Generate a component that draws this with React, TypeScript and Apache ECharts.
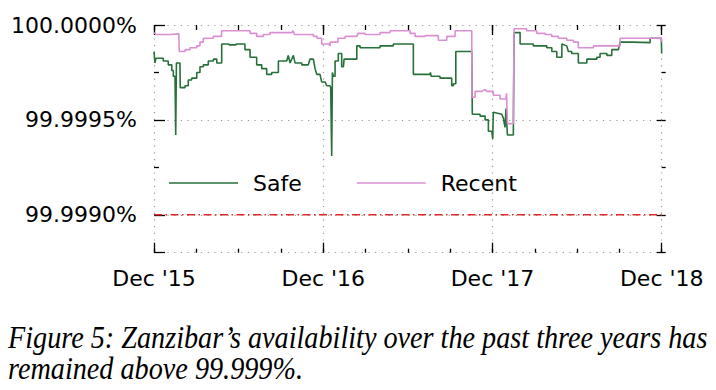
import React, { useEffect, useRef } from 'react';
import * as echarts from 'echarts';

// ---- data ----
const xTickLabels = ["Dec '15", "Dec '16", "Dec '17", "Dec '18"];
const yMajorTicks = [99.999, 99.9995, 100];
const yMinorTicks = [99.99925, 99.99975];
const yMin = 99.9988;
const yMax = 100;
const xMin = 0;
const xMax = 36;
const threshold = 99.999;
const seriesNames = ['Safe', 'Recent'];
const caption = [
  'Figure 5: Zanzibar\u2019s availability over the past three years has',
  'remained above 99.999%.',
];

// x = months since Dec 2015, y = availability (%)
const safe: [number, number][] = [
  [0, 99.99986], [0.07, 99.9998], [0.14, 99.999825], [0.66, 99.999825], [0.66, 99.99981], [1.01, 99.99981],
  [1.01, 99.99979], [1.26, 99.99979], [1.26, 99.99976], [1.37, 99.99976], [1.37, 99.99973], [1.49, 99.99973],
  [1.54, 99.99942], [1.59, 99.9998], [1.84, 99.9998], [1.86, 99.99967], [2.2, 99.99967], [2.2, 99.99968],
  [2.43, 99.99968], [2.43, 99.99971], [2.67, 99.99971], [2.67, 99.99972], [3.03, 99.99972], [3.03, 99.99975],
  [3.26, 99.99975], [3.26, 99.99978], [3.5, 99.99978], [3.5, 99.99979], [3.85, 99.99979], [3.85, 99.99981],
  [4.21, 99.99981], [4.21, 99.99982], [4.45, 99.99982], [4.45, 99.9998], [4.8, 99.9998], [4.8, 99.9999],
  [5.3, 99.9999], [5.35, 99.999895], [5.8, 99.999895], [5.85, 99.9999], [6.45, 99.9999], [6.45, 99.99987],
  [6.81, 99.99987], [6.81, 99.99983], [7.28, 99.99983], [7.28, 99.99979], [7.64, 99.99979], [7.64, 99.99977],
  [7.99, 99.99977], [7.99, 99.99974], [8.35, 99.99974], [8.35, 99.99975], [8.82, 99.99975], [8.82, 99.99981],
  [9.41, 99.99981], [9.52, 99.99984], [9.65, 99.9998], [9.88, 99.99984], [10.0, 99.9998], [10.48, 99.9998],
  [10.48, 99.99979], [10.94, 99.99979], [11.06, 99.99982], [11.3, 99.99982], [11.42, 99.99977], [11.54, 99.99974],
  [11.77, 99.99974], [11.89, 99.9997], [12.13, 99.9997], [12.25, 99.99968], [12.48, 99.99968], [12.53, 99.99967],
  [12.6, 99.99931], [12.65, 99.99975], [12.72, 99.99973], [12.84, 99.99973], [12.84, 99.99981], [13.07, 99.99981],
  [13.07, 99.99985], [13.31, 99.99985], [13.31, 99.99978], [13.43, 99.99978], [13.48, 99.99982], [14.38, 99.99982],
  [14.38, 99.99989], [14.61, 99.99989], [14.61, 99.99988], [16.03, 99.99988], [16.03, 99.99989], [16.97, 99.99989],
  [16.97, 99.9999], [18.39, 99.9999], [18.39, 99.99974], [19.57, 99.99974], [19.6, 99.99975], [19.65, 99.99973],
  [20.28, 99.99973], [20.28, 99.99972], [21.11, 99.99972], [21.11, 99.99968], [21.23, 99.99968], [21.23, 99.99969],
  [21.4, 99.99969], [21.4, 99.99986], [22.53, 99.99986], [22.57, 99.99953], [23.12, 99.99953], [23.12, 99.99952],
  [23.48, 99.99952], [23.48, 99.9995], [23.71, 99.9995], [23.71, 99.99944], [23.95, 99.99944], [24.02, 99.9994],
  [24.06, 99.99954], [24.66, 99.99953], [24.77, 99.99951], [24.89, 99.99946], [24.96, 99.99956], [25.06, 99.99942],
  [25.48, 99.99942], [25.53, 99.99996], [25.96, 99.99996], [25.96, 99.9999], [26.9, 99.9999], [26.9, 99.99989],
  [27.85, 99.99989], [27.85, 99.99988], [28.21, 99.99988], [28.21, 99.99986], [28.56, 99.99986], [28.56, 99.99983],
  [28.92, 99.99983], [28.92, 99.9999], [29.27, 99.99989], [29.38, 99.99986], [29.62, 99.99986], [29.62, 99.99985],
  [30.09, 99.99985], [30.09, 99.9998], [30.69, 99.9998], [30.69, 99.99982], [31.4, 99.99982], [31.4, 99.99983],
  [31.63, 99.99983], [31.63, 99.99985], [32.11, 99.99985], [32.11, 99.99984], [32.46, 99.99984], [32.46, 99.99987],
  [32.93, 99.99987], [33.05, 99.99991], [33.88, 99.99991], [33.88, 99.999907], [35.18, 99.999907], [35.18, 99.99993],
  [35.97, 99.99993], [36, 99.99985],
];

const recent: [number, number][] = [
  [0, 99.99996], [0.15, 99.99995], [1.18, 99.99995], [1.18, 99.999953], [1.76, 99.999953], [1.79, 99.99986],
  [2.2, 99.99986], [2.2, 99.99987], [2.55, 99.99987], [2.55, 99.99988], [3.03, 99.99988], [3.03, 99.99989],
  [3.26, 99.99989], [3.26, 99.99991], [3.5, 99.99991], [3.5, 99.99993], [4.2, 99.99993], [4.2, 99.99994],
  [4.78, 99.99994], [4.8, 99.99997], [6.81, 99.99997], [6.81, 99.999956], [7.28, 99.999956], [7.28, 99.99994],
  [7.75, 99.99994], [7.75, 99.99995], [8.23, 99.99995], [8.23, 99.99996], [9.77, 99.99996], [9.86, 99.99997],
  [9.95, 99.99995], [11.3, 99.99995], [11.3, 99.99994], [11.56, 99.99994], [11.56, 99.99993], [11.89, 99.99993],
  [11.89, 99.9999], [12.4, 99.9999], [12.48, 99.99989], [12.5, 99.99991], [13.05, 99.99991], [13.05, 99.99993],
  [13.55, 99.99993], [13.55, 99.99994], [14.38, 99.99994], [14.47, 99.999956], [14.96, 99.999956], [14.96, 99.99995],
  [16.03, 99.99995], [16.03, 99.99996], [16.74, 99.99996], [16.74, 99.99997], [18.16, 99.99997], [18.16, 99.999956],
  [18.51, 99.999956], [18.51, 99.99994], [19.22, 99.99994], [19.22, 99.999944], [20.16, 99.999944], [20.16, 99.99992],
  [20.76, 99.99992], [20.76, 99.99994], [21.35, 99.99994], [21.35, 99.99997], [22.53, 99.99997], [22.55, 99.99962],
  [22.77, 99.99962], [22.77, 99.99965], [23.24, 99.99965], [23.48, 99.99966], [23.6, 99.99965], [24.06, 99.99965],
  [24.06, 99.99963], [24.54, 99.99963], [24.54, 99.99961], [24.95, 99.99961], [25.0, 99.99964], [25.06, 99.99948],
  [25.48, 99.99948], [25.53, 99.99998], [26.43, 99.99998], [26.43, 99.99997], [27.14, 99.99997], [27.14, 99.999956],
  [27.73, 99.999956], [27.73, 99.99995], [28.2, 99.99995], [28.2, 99.99994], [28.67, 99.99994], [28.67, 99.99993],
  [29.27, 99.99993], [29.27, 99.99992], [29.74, 99.99992], [29.74, 99.99991], [30.09, 99.99991], [30.09, 99.99988],
  [31.16, 99.99988], [31.16, 99.99989], [33.05, 99.99989], [33.05, 99.99993], [35.53, 99.99993], [35.53, 99.999932],
  [35.97, 99.999932], [36, 99.99991],
];

// ---- styles ----
const FONT = 'DejaVu Sans';
const TICK = { color: '#000', width: 1.3 };
const DOTTED = { color: '#999', width: 1.2, type: [1.2, 5.5] as number[] };
const GREEN = '#27703a';
const PINK = '#d98fd2';
const RED = '#e0282a';

function xAxisDef(position: 'top' | 'bottom', interval: number, len: number, major: boolean, labels: boolean) {
  return {
    type: 'value',
    min: xMin,
    max: xMax,
    interval,
    position,
    axisLine: { show: false, onZero: false },
    axisTick: { show: true, inside: true, length: len, lineStyle: TICK },
    axisLabel: labels
      ? {
          show: true,
          margin: 15,
          color: '#000',
          fontSize: 22,
          fontFamily: FONT,
          formatter: (v: number) => {
            const i = Math.round(v / 12);
            return Math.abs(v - i * 12) < 1e-6 ? xTickLabels[i] : '';
          },
        }
      : { show: false },
    splitLine: major && labels ? { show: true, lineStyle: DOTTED } : { show: false },
  };
}

function yAxisDef(position: 'left' | 'right', ticks: number[], len: number, inside: boolean, labels: boolean, split: boolean) {
  return {
    type: 'value',
    min: yMin,
    max: yMax,
    position,
    axisLine: { show: false, onZero: false },
    axisTick: { show: true, inside, length: len, customValues: ticks, lineStyle: TICK },
    axisLabel: labels
      ? {
          show: true,
          customValues: yMajorTicks,
          margin: 17,
          color: '#000',
          fontSize: 22,
          fontFamily: FONT,
          formatter: (v: number) => v.toFixed(4) + '%',
        }
      : { show: false },
    splitLine: split ? { show: true, lineStyle: DOTTED } : { show: false },
  };
}

export default function App() {
  const ref = useRef<HTMLDivElement>(null);

  useEffect(() => {
    if (!ref.current) return;
    const chart = echarts.init(ref.current, null, { renderer: 'svg' });
    const majorWithEdge = [yMin, ...yMajorTicks];
    chart.setOption({
      animation: false,
      backgroundColor: '#fff',
      grid: { left: 154, right: 54.3, top: 25, bottom: 137.3, containLabel: false, outerBoundsMode: 'none' },
      xAxis: [
        xAxisDef('bottom', 12, 10, true, true),
        xAxisDef('bottom', 3, 4, false, false),
        xAxisDef('top', 12, 10, true, false),
        xAxisDef('top', 3, 5, false, false),
      ],
      yAxis: [
        yAxisDef('left', majorWithEdge, 11, true, true, true),
        yAxisDef('left', yMinorTicks, 5, true, false, false),
        yAxisDef('right', majorWithEdge, 5, true, false, false),
        yAxisDef('right', majorWithEdge, 4, false, false, false),
        yAxisDef('right', yMinorTicks, 4, false, false, false),
      ],
      legend: {
        left: 169,
        top: 172,
        icon: 'rect',
        itemWidth: 69,
        itemHeight: 1.6,
        itemGap: 55,
        padding: 0,
        data: seriesNames,
        textStyle: { fontSize: 22, fontFamily: FONT, color: '#000', padding: [0, 0, 0, 10] },
      },
      series: [
        {
          name: 'threshold',
          type: 'line',
          data: [[xMin, threshold], [xMax, threshold]],
          symbol: 'none',
          silent: true,
          xAxisIndex: 0,
          yAxisIndex: 0,
          lineStyle: { color: RED, width: 1.3, type: [8, 3.5, 1.5, 3.5] },
          itemStyle: { color: RED },
          z: 1,
        },
        {
          name: seriesNames[0],
          type: 'line',
          data: safe,
          symbol: 'none',
          xAxisIndex: 0,
          yAxisIndex: 0,
          lineStyle: { color: GREEN, width: 1.6 },
          itemStyle: { color: GREEN },
          z: 2,
        },
        {
          name: seriesNames[1],
          type: 'line',
          data: recent,
          symbol: 'none',
          xAxisIndex: 0,
          yAxisIndex: 0,
          lineStyle: { color: PINK, width: 1.6 },
          itemStyle: { color: PINK },
          z: 3,
        },
      ],
      graphic: caption.map((line, i) => ({
        type: 'text',
        x: 8,
        y: 322 + i * 31,
        scaleX: 0.91,
        style: {
          text: line,
          fontFamily: 'Liberation Serif',
          fontStyle: 'italic',
          fontSize: 31,
          fill: '#000',
          verticalAlign: 'top',
        },
      })),
    });
    return () => chart.dispose();
  }, []);

  return (
    <div
      ref={ref}
      style={{ position: 'absolute', left: 0, top: 0, width: 716, height: 390 }}
    />
  );
}
